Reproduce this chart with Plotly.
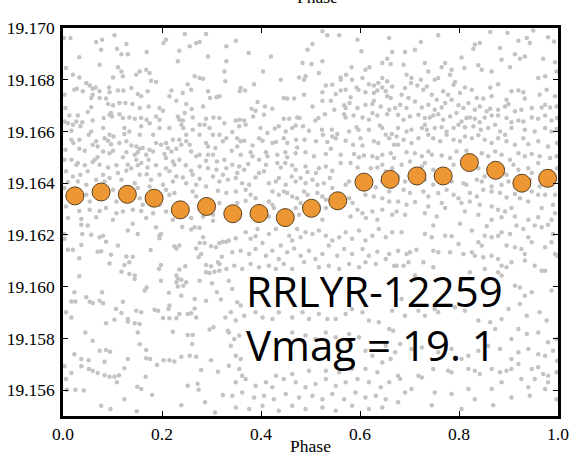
import plotly.graph_objects as go

# Binned light curve (phase, magnitude)
bin_phase = [0.024, 0.077, 0.130, 0.184, 0.237, 0.290, 0.343, 0.396, 0.449, 0.502,
             0.555, 0.608, 0.661, 0.715, 0.768, 0.821, 0.874, 0.927, 0.979]
bin_mag = [19.16351, 19.16366, 19.16357, 19.16342, 19.16297, 19.16310, 19.16282, 19.16283,
           19.16267, 19.16303, 19.16332, 19.16404, 19.16415, 19.16428, 19.16428, 19.16480,
           19.16450, 19.16400, 19.16419]

raw_points = [
    # phase 0.00-0.34, upper half
    (0.002, 19.16961), (0.015, 19.16961), (0.104, 19.16972), (0.067, 19.16946), (0.079, 19.16955),
    (0.077, 19.16916), (0.128, 19.16938), (0.169, 19.16907), (0.208, 19.16955), (0.203, 19.16942),
    (0.246, 19.16977), (0.269, 19.16942), (0.276, 19.16946), (0.289, 19.16977), (0.293, 19.16890),
    (0.330, 19.16929), (0.235, 19.16912), (0.256, 19.16929), (0.118, 19.16899), (0.131, 19.16899),
    (0.109, 19.16920), (0.033, 19.16887), (0.006, 19.16845), (0.074, 19.16858), (0.111, 19.16848),
    (0.118, 19.16832), (0.121, 19.16813), (0.168, 19.16839), (0.175, 19.16826), (0.232, 19.16871),
    (0.330, 19.16871), (0.326, 19.16832), (0.020, 19.16819), (0.033, 19.16809), (0.047, 19.16787),
    (0.054, 19.16778), (0.066, 19.16770), (0.101, 19.16809), (0.148, 19.16819), (0.155, 19.16832),
    (0.178, 19.16796), (0.188, 19.16791), (0.266, 19.16813), (0.276, 19.16807), (0.283, 19.16804),
    (0.252, 19.16783), (0.328, 19.16794), (0.023, 19.16761), (0.028, 19.16765), (0.040, 19.16755),
    (0.060, 19.16765), (0.074, 19.16755), (0.093, 19.16770), (0.094, 19.16752), (0.111, 19.16758),
    (0.122, 19.16758), (0.138, 19.16768), (0.151, 19.16745), (0.158, 19.16736), (0.171, 19.16755),
    (0.219, 19.16758), (0.215, 19.16736), (0.242, 19.16749), (0.259, 19.16761), (0.293, 19.16755),
    (0.310, 19.16732), (0.316, 19.16736), (0.003, 19.16742), (0.060, 19.16742), (0.057, 19.16729),
    (0.074, 19.16729), (0.087, 19.16727), (0.091, 19.16706), (0.101, 19.16701), (0.114, 19.16710),
    (0.126, 19.16710), (0.140, 19.16706), (0.155, 19.16691), (0.173, 19.16697), (0.195, 19.16691),
    (0.202, 19.16680), (0.229, 19.16719), (0.249, 19.16706), (0.260, 19.16687), (0.283, 19.16697),
    (0.297, 19.16729), (0.057, 19.16694), (0.050, 19.16675), (0.005, 19.16691), (0.013, 19.16662),
    (0.030, 19.16662), (0.003, 19.16639), (0.010, 19.16632), (0.020, 19.16626), (0.027, 19.16639),
    (0.039, 19.16636), (0.035, 19.16620), (0.060, 19.16642), (0.082, 19.16652), (0.094, 19.16665),
    (0.099, 19.16658), (0.097, 19.16671), (0.114, 19.16667), (0.121, 19.16652), (0.134, 19.16654),
    (0.145, 19.16649), (0.158, 19.16652), (0.169, 19.16645), (0.175, 19.16632), (0.188, 19.16658),
    (0.195, 19.16645), (0.232, 19.16658), (0.235, 19.16645), (0.242, 19.16642), (0.246, 19.16671),
    (0.239, 19.16626), (0.243, 19.16613), (0.262, 19.16654), (0.276, 19.16626), (0.289, 19.16649),
    (0.286, 19.16626), (0.304, 19.16654), (0.316, 19.16652), (0.326, 19.16632), (0.017, 19.16603),
    (0.057, 19.16600), (0.052, 19.16587), (0.081, 19.16613), (0.094, 19.16587), (0.102, 19.16581),
    (0.084, 19.16574), (0.124, 19.16613), (0.124, 19.16590), (0.134, 19.16600), (0.155, 19.16587),
    (0.158, 19.16620), (0.182, 19.16587), (0.195, 19.16613), (0.215, 19.16613), (0.249, 19.16587),
    (0.262, 19.16607), (0.276, 19.16587), (0.296, 19.16613), (0.303, 19.16587), (0.316, 19.16587),
    (0.330, 19.16574), (0.017, 19.16568), (0.021, 19.16555), (0.033, 19.16568), (0.067, 19.16562),
    (0.091, 19.16564), (0.097, 19.16551), (0.070, 19.16542), (0.060, 19.16549), (0.114, 19.16555),
    (0.128, 19.16562), (0.138, 19.16546), (0.148, 19.16542), (0.155, 19.16533), (0.161, 19.16536),
    (0.175, 19.16529), (0.188, 19.16555), (0.198, 19.16549), (0.208, 19.16555), (0.222, 19.16568),
    (0.212, 19.16536), (0.235, 19.16568), (0.249, 19.16562), (0.239, 19.16549), (0.256, 19.16549),
    (0.289, 19.16555), (0.293, 19.16542), (0.308, 19.16536), (0.323, 19.16562), (0.033, 19.16533),
    (0.005, 19.16529), (0.044, 19.16525), (0.081, 19.16523), (0.094, 19.16516), (0.101, 19.16525),
    (0.128, 19.16520), (0.145, 19.16510), (0.151, 19.16520), (0.168, 19.16510), (0.182, 19.16523),
    (0.205, 19.16513), (0.219, 19.16523), (0.229, 19.16533), (0.259, 19.16523), (0.276, 19.16510),
    (0.293, 19.16510), (0.303, 19.16510), (0.003, 19.16491), (0.017, 19.16491), (0.030, 19.16478),
    (0.064, 19.16491), (0.070, 19.16500), (0.121, 19.16500), (0.148, 19.16491), (0.158, 19.16478),
    (0.173, 19.16491), (0.208, 19.16497), (0.222, 19.16484), (0.235, 19.16491), (0.269, 19.16504),
    (0.289, 19.16487), (0.311, 19.16484), (0.326, 19.16491), (0.027, 19.16471), (0.044, 19.16469),
    (0.060, 19.16482), (0.074, 19.16471), (0.091, 19.16461), (0.108, 19.16469), (0.131, 19.16471),
    (0.138, 19.16458), (0.151, 19.16469), (0.171, 19.16461), (0.188, 19.16469), (0.208, 19.16458),
    (0.225, 19.16471), (0.248, 19.16469), (0.259, 19.16448), (0.276, 19.16465), (0.293, 19.16458),
    (0.310, 19.16452), (0.330, 19.16458), (0.006, 19.16446), (0.020, 19.16426), (0.035, 19.16433),
    (0.050, 19.16446), (0.081, 19.16433), (0.094, 19.16420), (0.111, 19.16439), (0.118, 19.16413),
    (0.128, 19.16448), (0.155, 19.16433), (0.169, 19.16435), (0.178, 19.16413), (0.195, 19.16433),
    (0.215, 19.16446), (0.229, 19.16426), (0.242, 19.16422), (0.262, 19.16433), (0.276, 19.16417),
    (0.303, 19.16426), (0.323, 19.16433), (0.333, 19.16413), (0.010, 19.16404), (0.030, 19.16407),
    (0.047, 19.16394), (0.067, 19.16413), (0.084, 19.16407), (0.145, 19.16400), (0.175, 19.16387),
    (0.202, 19.16394), (0.222, 19.16407), (0.249, 19.16400), (0.269, 19.16394), (0.289, 19.16387),
    (0.316, 19.16407), (0.003, 19.16381), (0.047, 19.16355), (0.054, 19.16329), (0.101, 19.16375),
    (0.108, 19.16329), (0.151, 19.16381), (0.155, 19.16342), (0.161, 19.16317), (0.208, 19.16375),
    (0.215, 19.16355), (0.225, 19.16362), (0.262, 19.16368), (0.269, 19.16349), (0.313, 19.16371),
    (0.330, 19.16362), (0.006, 19.16310), (0.033, 19.16293), (0.054, 19.16297), (0.074, 19.16293),
    (0.087, 19.16304), (0.108, 19.16284), (0.121, 19.16291), (0.141, 19.16297), (0.158, 19.16293),
    (0.182, 19.16284), (0.195, 19.16317), (0.208, 19.16291), (0.249, 19.16293), (0.259, 19.16265),
    (0.283, 19.16271), (0.303, 19.16278), (0.316, 19.16323), (0.010, 19.16265), (0.037, 19.16262),
    (0.067, 19.16268), (0.101, 19.16259), (0.168, 19.16265), (0.222, 19.16259), (0.303, 19.16255),
    # phase 0.34-0.67, upper half
    (0.524, 19.16987), (0.534, 19.16972), (0.558, 19.16972), (0.595, 19.16955), (0.603, 19.16910),
    (0.659, 19.16961), (0.665, 19.16907), (0.349, 19.16951), (0.375, 19.16903), (0.420, 19.16890),
    (0.494, 19.16916), (0.504, 19.16938), (0.484, 19.16865), (0.502, 19.16861), (0.524, 19.16871),
    (0.404, 19.16832), (0.477, 19.16809), (0.490, 19.16813), (0.487, 19.16800), (0.517, 19.16826),
    (0.561, 19.16809), (0.561, 19.16800), (0.572, 19.16819), (0.584, 19.16800), (0.583, 19.16848),
    (0.611, 19.16839), (0.619, 19.16848), (0.605, 19.16807), (0.645, 19.16865), (0.655, 19.16881),
    (0.662, 19.16861), (0.645, 19.16807), (0.655, 19.16794), (0.440, 19.16800), (0.531, 19.16778),
    (0.544, 19.16781), (0.561, 19.16758), (0.571, 19.16761), (0.593, 19.16770), (0.597, 19.16761),
    (0.618, 19.16783), (0.628, 19.16778), (0.637, 19.16787), (0.645, 19.16770), (0.652, 19.16755),
    (0.665, 19.16774), (0.386, 19.16783), (0.359, 19.16768), (0.357, 19.16755), (0.368, 19.16758),
    (0.524, 19.16752), (0.551, 19.16745), (0.487, 19.16742), (0.446, 19.16729), (0.453, 19.16727),
    (0.467, 19.16727), (0.524, 19.16719), (0.541, 19.16719), (0.581, 19.16732), (0.611, 19.16752),
    (0.628, 19.16749), (0.635, 19.16758), (0.655, 19.16736), (0.662, 19.16729), (0.393, 19.16714),
    (0.381, 19.16688), (0.389, 19.16680), (0.408, 19.16697), (0.423, 19.16688), (0.406, 19.16665),
    (0.384, 19.16658), (0.349, 19.16642), (0.357, 19.16645), (0.366, 19.16642), (0.369, 19.16626),
    (0.356, 19.16620), (0.504, 19.16697), (0.548, 19.16684), (0.568, 19.16701), (0.571, 19.16691),
    (0.579, 19.16710), (0.595, 19.16691), (0.611, 19.16703), (0.625, 19.16706), (0.628, 19.16719),
    (0.642, 19.16697), (0.659, 19.16684), (0.671, 19.16691), (0.446, 19.16649), (0.457, 19.16649),
    (0.473, 19.16654), (0.478, 19.16652), (0.510, 19.16642), (0.516, 19.16652), (0.529, 19.16667),
    (0.568, 19.16667), (0.571, 19.16654), (0.587, 19.16662), (0.605, 19.16654), (0.618, 19.16645),
    (0.625, 19.16671), (0.635, 19.16662), (0.655, 19.16667), (0.436, 19.16620), (0.399, 19.16613),
    (0.413, 19.16594), (0.428, 19.16611), (0.450, 19.16600), (0.463, 19.16613), (0.470, 19.16623),
    (0.485, 19.16620), (0.497, 19.16603), (0.523, 19.16607), (0.525, 19.16587), (0.543, 19.16607),
    (0.554, 19.16590), (0.578, 19.16600), (0.593, 19.16616), (0.597, 19.16607), (0.618, 19.16607),
    (0.640, 19.16623), (0.645, 19.16613), (0.652, 19.16587), (0.664, 19.16590), (0.342, 19.16598),
    (0.352, 19.16574), (0.366, 19.16564), (0.352, 19.16542), (0.359, 19.16562), (0.383, 19.16546),
    (0.396, 19.16574), (0.403, 19.16564), (0.423, 19.16555), (0.430, 19.16559), (0.446, 19.16574),
    (0.453, 19.16555), (0.471, 19.16568), (0.473, 19.16538), (0.488, 19.16568), (0.511, 19.16562),
    (0.534, 19.16559), (0.551, 19.16574), (0.544, 19.16581), (0.571, 19.16564), (0.586, 19.16549),
    (0.601, 19.16574), (0.605, 19.16546), (0.628, 19.16562), (0.637, 19.16555), (0.659, 19.16574),
    (0.669, 19.16549), (0.341, 19.16525), (0.359, 19.16510), (0.379, 19.16520), (0.383, 19.16504),
    (0.396, 19.16491), (0.410, 19.16520), (0.413, 19.16504), (0.433, 19.16510), (0.449, 19.16520),
    (0.453, 19.16500), (0.470, 19.16516), (0.490, 19.16520), (0.507, 19.16504), (0.531, 19.16513),
    (0.541, 19.16533), (0.561, 19.16510), (0.588, 19.16513), (0.598, 19.16500), (0.608, 19.16507),
    (0.625, 19.16504), (0.635, 19.16497), (0.645, 19.16510), (0.662, 19.16516), (0.669, 19.16497),
    (0.342, 19.16471), (0.356, 19.16465), (0.374, 19.16474), (0.366, 19.16452), (0.352, 19.16439),
    (0.396, 19.16439), (0.406, 19.16446), (0.410, 19.16471), (0.433, 19.16478), (0.440, 19.16461),
    (0.449, 19.16478), (0.463, 19.16469), (0.470, 19.16452), (0.490, 19.16465), (0.494, 19.16443),
    (0.511, 19.16439), (0.517, 19.16458), (0.531, 19.16465), (0.544, 19.16448), (0.561, 19.16478),
    (0.581, 19.16478), (0.595, 19.16461), (0.622, 19.16458), (0.635, 19.16461), (0.645, 19.16471),
    (0.652, 19.16446), (0.665, 19.16458), (0.349, 19.16420), (0.362, 19.16400), (0.376, 19.16394),
    (0.389, 19.16422), (0.416, 19.16400), (0.430, 19.16407), (0.436, 19.16420), (0.450, 19.16394),
    (0.462, 19.16426), (0.470, 19.16407), (0.480, 19.16420), (0.490, 19.16400), (0.504, 19.16413),
    (0.514, 19.16394), (0.527, 19.16400), (0.539, 19.16420), (0.544, 19.16381), (0.571, 19.16394),
    (0.578, 19.16407), (0.632, 19.16384), (0.645, 19.16407), (0.659, 19.16368), (0.665, 19.16387),
    (0.349, 19.16368), (0.369, 19.16375), (0.379, 19.16355), (0.389, 19.16342), (0.423, 19.16368),
    (0.436, 19.16355), (0.446, 19.16368), (0.453, 19.16362), (0.463, 19.16349), (0.473, 19.16342),
    (0.487, 19.16368), (0.494, 19.16355), (0.514, 19.16362), (0.524, 19.16349), (0.531, 19.16336),
    (0.578, 19.16342), (0.585, 19.16323), (0.611, 19.16355), (0.628, 19.16349), (0.645, 19.16342),
    (0.659, 19.16329), (0.352, 19.16323), (0.369, 19.16332), (0.416, 19.16329), (0.423, 19.16317),
    (0.426, 19.16304), (0.470, 19.16304), (0.480, 19.16323), (0.531, 19.16304), (0.595, 19.16297),
    (0.605, 19.16284), (0.625, 19.16291), (0.645, 19.16297), (0.665, 19.16278), (0.356, 19.16265),
    (0.389, 19.16259), (0.416, 19.16271), (0.477, 19.16278), (0.524, 19.16259), (0.581, 19.16271),
    (0.612, 19.16265), (0.635, 19.16259),
    # phase 0.67-1.00, upper half
    (0.758, 19.16972), (0.863, 19.16985), (0.898, 19.16981), (0.950, 19.16990), (0.920, 19.16951),
    (0.937, 19.16961), (0.943, 19.16942), (0.980, 19.16964), (0.992, 19.16948), (0.832, 19.16936),
    (0.842, 19.16942), (0.829, 19.16920), (0.883, 19.16923), (0.913, 19.16899), (0.923, 19.16881),
    (0.933, 19.16890), (0.970, 19.16881), (0.994, 19.16868), (0.691, 19.16907), (0.711, 19.16916),
    (0.723, 19.16946), (0.688, 19.16858), (0.694, 19.16819), (0.704, 19.16807), (0.731, 19.16865),
    (0.738, 19.16832), (0.765, 19.16848), (0.772, 19.16865), (0.782, 19.16819), (0.785, 19.16839),
    (0.805, 19.16886), (0.811, 19.16845), (0.839, 19.16856), (0.846, 19.16839), (0.866, 19.16832),
    (0.886, 19.16877), (0.903, 19.16848), (0.960, 19.16807), (0.974, 19.16813), (0.997, 19.16832),
    (0.691, 19.16768), (0.703, 19.16787), (0.716, 19.16778), (0.723, 19.16800), (0.728, 19.16761),
    (0.735, 19.16774), (0.751, 19.16800), (0.758, 19.16807), (0.745, 19.16742), (0.755, 19.16723),
    (0.768, 19.16755), (0.778, 19.16742), (0.792, 19.16791), (0.802, 19.16749), (0.789, 19.16781),
    (0.812, 19.16770), (0.826, 19.16761), (0.836, 19.16729), (0.849, 19.16727), (0.863, 19.16770),
    (0.866, 19.16736), (0.879, 19.16783), (0.896, 19.16723), (0.906, 19.16755), (0.920, 19.16758),
    (0.930, 19.16752), (0.933, 19.16727), (0.963, 19.16742), (0.977, 19.16761), (0.994, 19.16736),
    (0.684, 19.16742), (0.698, 19.16729), (0.681, 19.16703), (0.694, 19.16691), (0.711, 19.16716),
    (0.725, 19.16693), (0.738, 19.16703), (0.751, 19.16684), (0.765, 19.16693), (0.772, 19.16710),
    (0.785, 19.16723), (0.799, 19.16701), (0.809, 19.16691), (0.819, 19.16710), (0.832, 19.16684),
    (0.842, 19.16697), (0.856, 19.16678), (0.863, 19.16688), (0.879, 19.16684), (0.893, 19.16697),
    (0.900, 19.16706), (0.913, 19.16678), (0.926, 19.16684), (0.947, 19.16691), (0.967, 19.16693),
    (0.974, 19.16703), (0.984, 19.16693), (0.997, 19.16697), (0.677, 19.16665), (0.688, 19.16645),
    (0.701, 19.16658), (0.718, 19.16665), (0.731, 19.16652), (0.741, 19.16654), (0.748, 19.16662),
    (0.758, 19.16667), (0.768, 19.16645), (0.782, 19.16658), (0.795, 19.16671), (0.805, 19.16639),
    (0.815, 19.16652), (0.822, 19.16654), (0.832, 19.16649), (0.842, 19.16636), (0.852, 19.16654),
    (0.866, 19.16662), (0.879, 19.16662), (0.896, 19.16652), (0.906, 19.16636), (0.920, 19.16642),
    (0.930, 19.16639), (0.947, 19.16654), (0.960, 19.16649), (0.974, 19.16662), (0.987, 19.16642),
    (0.998, 19.16652), (0.677, 19.16613), (0.694, 19.16600), (0.704, 19.16607), (0.725, 19.16613),
    (0.731, 19.16626), (0.735, 19.16607), (0.751, 19.16613), (0.765, 19.16616), (0.775, 19.16600),
    (0.789, 19.16613), (0.799, 19.16626), (0.812, 19.16616), (0.829, 19.16620), (0.844, 19.16607),
    (0.859, 19.16613), (0.873, 19.16626), (0.883, 19.16600), (0.893, 19.16587), (0.906, 19.16613),
    (0.933, 19.16607), (0.953, 19.16600), (0.974, 19.16613), (0.987, 19.16600), (0.997, 19.16610),
    (0.674, 19.16581), (0.688, 19.16568), (0.704, 19.16555), (0.718, 19.16574), (0.738, 19.16587),
    (0.748, 19.16574), (0.762, 19.16562), (0.775, 19.16587), (0.789, 19.16568), (0.802, 19.16562),
    (0.812, 19.16581), (0.826, 19.16574), (0.839, 19.16585), (0.852, 19.16568), (0.866, 19.16555),
    (0.879, 19.16574), (0.896, 19.16562), (0.913, 19.16549), (0.930, 19.16574), (0.940, 19.16551),
    (0.960, 19.16562), (0.980, 19.16542), (0.998, 19.16555), (0.677, 19.16549), (0.694, 19.16520),
    (0.711, 19.16516), (0.725, 19.16504), (0.738, 19.16523), (0.745, 19.16510), (0.765, 19.16507),
    (0.782, 19.16497), (0.795, 19.16523), (0.815, 19.16525), (0.846, 19.16516), (0.859, 19.16504),
    (0.873, 19.16523), (0.886, 19.16510), (0.903, 19.16491), (0.920, 19.16516), (0.933, 19.16504),
    (0.947, 19.16513), (0.963, 19.16504), (0.984, 19.16497), (0.997, 19.16504), (0.684, 19.16471),
    (0.701, 19.16484), (0.725, 19.16465), (0.731, 19.16478), (0.748, 19.16452), (0.789, 19.16471),
    (0.839, 19.16458), (0.852, 19.16426), (0.866, 19.16443), (0.886, 19.16465), (0.896, 19.16433),
    (0.910, 19.16471), (0.920, 19.16452), (0.940, 19.16458), (0.947, 19.16439), (0.960, 19.16478),
    (0.984, 19.16446), (0.998, 19.16458), (0.677, 19.16426), (0.691, 19.16407), (0.731, 19.16413),
    (0.748, 19.16394), (0.765, 19.16420), (0.785, 19.16407), (0.809, 19.16400), (0.815, 19.16394),
    (0.836, 19.16413), (0.846, 19.16407), (0.866, 19.16387), (0.886, 19.16394), (0.900, 19.16407),
    (0.943, 19.16413), (0.963, 19.16387), (0.987, 19.16394), (0.688, 19.16375), (0.701, 19.16362),
    (0.728, 19.16368), (0.738, 19.16349), (0.758, 19.16362), (0.775, 19.16375), (0.789, 19.16355),
    (0.799, 19.16342), (0.822, 19.16362), (0.836, 19.16349), (0.849, 19.16375), (0.866, 19.16368),
    (0.883, 19.16362), (0.896, 19.16345), (0.913, 19.16358), (0.923, 19.16342), (0.947, 19.16368),
    (0.960, 19.16355), (0.974, 19.16355), (0.994, 19.16355), (0.677, 19.16329), (0.694, 19.16317),
    (0.711, 19.16327), (0.738, 19.16310), (0.765, 19.16323), (0.772, 19.16304), (0.805, 19.16323),
    (0.822, 19.16329), (0.842, 19.16317), (0.866, 19.16310), (0.879, 19.16297), (0.893, 19.16291),
    (0.906, 19.16304), (0.940, 19.16329), (0.967, 19.16304), (0.990, 19.16317), (0.674, 19.16291),
    (0.691, 19.16278), (0.731, 19.16284), (0.755, 19.16271), (0.812, 19.16291), (0.839, 19.16278),
    (0.866, 19.16259), (0.886, 19.16268), (0.913, 19.16271), (0.940, 19.16259), (0.960, 19.16268),
    (0.994, 19.16284), (0.987, 19.16259),
    # phase 0.00-0.34, lower half
    (0.037, 19.16239), (0.050, 19.16236), (0.141, 19.16243), (0.188, 19.16230), (0.241, 19.16231),
    (0.259, 19.16221), (0.266, 19.16230), (0.276, 19.16228), (0.003, 19.16204), (0.003, 19.16185),
    (0.039, 19.16204), (0.057, 19.16201), (0.074, 19.16191), (0.081, 19.16197), (0.087, 19.16174),
    (0.131, 19.16217), (0.151, 19.16204), (0.195, 19.16197), (0.198, 19.16204), (0.195, 19.16187),
    (0.283, 19.16191), (0.276, 19.16169), (0.286, 19.16169), (0.299, 19.16156), (0.309, 19.16152),
    (0.316, 19.16169), (0.323, 19.16174), (0.330, 19.16174), (0.010, 19.16143), (0.020, 19.16143),
    (0.037, 19.16161), (0.033, 19.16110), (0.070, 19.16135), (0.077, 19.16137), (0.097, 19.16123),
    (0.111, 19.16159), (0.128, 19.16117), (0.124, 19.16084), (0.134, 19.16094), (0.141, 19.16116),
    (0.177, 19.16142), (0.225, 19.16156), (0.235, 19.16159), (0.229, 19.16148), (0.269, 19.16148),
    (0.274, 19.16114), (0.279, 19.16126), (0.289, 19.16084), (0.299, 19.16079), (0.313, 19.16094),
    (0.316, 19.16088), (0.321, 19.16116), (0.094, 19.16090), (0.118, 19.16058), (0.134, 19.16049),
    (0.145, 19.16043), (0.145, 19.16030), (0.194, 19.16068), (0.198, 19.16084), (0.235, 19.16066),
    (0.247, 19.16079), (0.229, 19.16043), (0.232, 19.16032), (0.229, 19.16017), (0.239, 19.16027),
    (0.249, 19.16017), (0.243, 19.16004), (0.289, 19.16056), (0.296, 19.16053), (0.306, 19.16058),
    (0.316, 19.16062), (0.330, 19.16068), (0.033, 19.16040), (0.276, 19.16023), (0.301, 19.16013),
    (0.165, 19.15985), (0.169, 19.15997), (0.198, 19.16023), (0.232, 19.16001), (0.214, 19.15976),
    (0.239, 19.15965), (0.266, 19.15952), (0.289, 19.15946), (0.319, 19.15950), (0.311, 19.15978),
    (0.023, 19.15978), (0.017, 19.15943), (0.025, 19.15943), (0.047, 19.15959), (0.054, 19.15942),
    (0.060, 19.15937), (0.074, 19.15946), (0.081, 19.15936), (0.079, 19.15978), (0.121, 19.15942),
    (0.107, 19.15914), (0.118, 19.15898), (0.104, 19.15872), (0.087, 19.15859), (0.006, 19.15901),
    (0.017, 19.15881), (0.131, 19.15875), (0.131, 19.15865), (0.145, 19.15859), (0.155, 19.15856),
    (0.148, 19.15907), (0.158, 19.15901), (0.185, 19.15911), (0.192, 19.15907), (0.202, 19.15879),
    (0.215, 19.15878), (0.229, 19.15878), (0.215, 19.15927), (0.213, 19.15914), (0.235, 19.15894),
    (0.252, 19.15894), (0.259, 19.15897), (0.266, 19.15916), (0.269, 19.15881), (0.328, 19.15881),
    (0.333, 19.15830), (0.296, 19.15834), (0.304, 19.15843), (0.045, 19.15823), (0.060, 19.15791),
    (0.151, 19.15823), (0.222, 19.15826), (0.252, 19.15813), (0.262, 19.15813), (0.261, 19.15778),
    (0.023, 19.15739), (0.037, 19.15720), (0.052, 19.15716), (0.074, 19.15752), (0.087, 19.15755),
    (0.095, 19.15748), (0.084, 19.15710), (0.131, 19.15720), (0.155, 19.15777), (0.168, 19.15755),
    (0.168, 19.15723), (0.176, 19.15720), (0.190, 19.15697), (0.203, 19.15716), (0.215, 19.15716),
    (0.225, 19.15711), (0.239, 19.15729), (0.256, 19.15733), (0.269, 19.15729), (0.299, 19.15716),
    (0.003, 19.15692), (0.006, 19.15643), (0.017, 19.15666), (0.037, 19.15692), (0.052, 19.15682),
    (0.060, 19.15675), (0.070, 19.15666), (0.084, 19.15658), (0.094, 19.15652), (0.104, 19.15652),
    (0.113, 19.15658), (0.109, 19.15630), (0.124, 19.15685), (0.167, 19.15652), (0.279, 19.15678),
    (0.313, 19.15671), (0.008, 19.15601), (0.025, 19.15601), (0.042, 19.15599), (0.150, 19.15613),
    (0.158, 19.15604), (0.252, 19.15617), (0.272, 19.15625), (0.274, 19.15601), (0.180, 19.15581),
    (0.124, 19.15565), (0.077, 19.15540), (0.096, 19.15527), (0.149, 19.15518), (0.239, 19.15542),
    (0.287, 19.15553), (0.307, 19.15514), (0.323, 19.15581),
    # phase 0.34-0.67, lower half
    (0.335, 19.16178), (0.349, 19.16187), (0.369, 19.16210), (0.379, 19.16185), (0.389, 19.16195),
    (0.393, 19.16223), (0.403, 19.16169), (0.416, 19.16204), (0.430, 19.16223), (0.440, 19.16159),
    (0.457, 19.16197), (0.463, 19.16178), (0.473, 19.16223), (0.480, 19.16191), (0.490, 19.16210),
    (0.504, 19.16204), (0.517, 19.16217), (0.531, 19.16197), (0.544, 19.16178), (0.558, 19.16191),
    (0.571, 19.16210), (0.584, 19.16185), (0.598, 19.16217), (0.611, 19.16178), (0.625, 19.16197),
    (0.638, 19.16223), (0.652, 19.16191), (0.665, 19.16210), (0.342, 19.16133), (0.359, 19.16139),
    (0.376, 19.16126), (0.389, 19.16146), (0.410, 19.16120), (0.423, 19.16139), (0.436, 19.16107),
    (0.453, 19.16133), (0.467, 19.16148), (0.480, 19.16120), (0.497, 19.16139), (0.510, 19.16107),
    (0.524, 19.16126), (0.537, 19.16159), (0.554, 19.16120), (0.568, 19.16146), (0.584, 19.16126),
    (0.605, 19.16146), (0.618, 19.16120), (0.635, 19.16135), (0.659, 19.16126), (0.346, 19.16081),
    (0.362, 19.16068), (0.379, 19.16088), (0.396, 19.16075), (0.416, 19.16081), (0.430, 19.16068),
    (0.446, 19.16088), (0.463, 19.16068), (0.487, 19.16094), (0.517, 19.16075), (0.537, 19.16081),
    (0.558, 19.16068), (0.578, 19.16088), (0.598, 19.16075), (0.611, 19.16094), (0.632, 19.16088),
    (0.652, 19.16107), (0.669, 19.16081), (0.335, 19.16023), (0.342, 19.15991), (0.352, 19.15940),
    (0.359, 19.15927), (0.339, 19.15901), (0.349, 19.15869), (0.366, 19.15888), (0.389, 19.15901),
    (0.403, 19.15881), (0.423, 19.15875), (0.436, 19.15901), (0.463, 19.15881), (0.484, 19.15901),
    (0.497, 19.15875), (0.517, 19.15894), (0.534, 19.15875), (0.551, 19.15875), (0.571, 19.15894),
    (0.584, 19.15914), (0.605, 19.15901), (0.618, 19.15869), (0.638, 19.15862), (0.659, 19.15836),
    (0.665, 19.15907), (0.335, 19.15823), (0.346, 19.15798), (0.356, 19.15811), (0.339, 19.15772),
    (0.349, 19.15733), (0.359, 19.15720), (0.335, 19.15694), (0.356, 19.15682), (0.362, 19.15656),
    (0.463, 19.15823), (0.490, 19.15811), (0.510, 19.15798), (0.531, 19.15823), (0.551, 19.15804),
    (0.578, 19.15817), (0.598, 19.15804), (0.611, 19.15752), (0.625, 19.15733), (0.645, 19.15707),
    (0.662, 19.15720), (0.652, 19.15772), (0.531, 19.15675), (0.558, 19.15669), (0.584, 19.15682),
    (0.611, 19.15682), (0.635, 19.15669), (0.430, 19.15656), (0.463, 19.15662), (0.497, 19.15675),
    (0.349, 19.15630), (0.369, 19.15643), (0.389, 19.15617), (0.410, 19.15630), (0.423, 19.15611),
    (0.446, 19.15643), (0.470, 19.15630), (0.490, 19.15611), (0.510, 19.15624), (0.531, 19.15643),
    (0.551, 19.15617), (0.571, 19.15630), (0.595, 19.15643), (0.618, 19.15630), (0.642, 19.15611),
    (0.659, 19.15630), (0.342, 19.15578), (0.362, 19.15591), (0.386, 19.15572), (0.406, 19.15578),
    (0.426, 19.15565), (0.450, 19.15585), (0.477, 19.15572), (0.504, 19.15578), (0.524, 19.15565),
    (0.544, 19.15585), (0.568, 19.15565), (0.591, 19.15591), (0.611, 19.15572), (0.632, 19.15578),
    (0.652, 19.15565), (0.349, 19.15533), (0.376, 19.15527), (0.403, 19.15540), (0.436, 19.15520),
    (0.463, 19.15540), (0.490, 19.15527), (0.524, 19.15533), (0.551, 19.15520), (0.584, 19.15540),
    (0.618, 19.15527), (0.645, 19.15533),
    # phase 0.67-1.00, lower half
    (0.748, 19.16236), (0.802, 19.16243), (0.826, 19.16217), (0.852, 19.16197), (0.856, 19.16234),
    (0.886, 19.16210), (0.903, 19.16204), (0.916, 19.16236), (0.930, 19.16223), (0.940, 19.16191),
    (0.953, 19.16236), (0.967, 19.16230), (0.980, 19.16239), (0.990, 19.16204), (0.684, 19.16210),
    (0.731, 19.16204), (0.745, 19.16191), (0.772, 19.16197), (0.785, 19.16195), (0.799, 19.16165),
    (0.839, 19.16172), (0.846, 19.16159), (0.866, 19.16191), (0.879, 19.16197), (0.896, 19.16159),
    (0.913, 19.16152), (0.926, 19.16146), (0.933, 19.16126), (0.947, 19.16172), (0.974, 19.16152),
    (0.987, 19.16172), (0.994, 19.16126), (0.998, 19.16120), (0.677, 19.16139), (0.694, 19.16126),
    (0.701, 19.16133), (0.714, 19.16143), (0.748, 19.16139), (0.758, 19.16133), (0.782, 19.16133),
    (0.809, 19.16126), (0.826, 19.16133), (0.832, 19.16120), (0.849, 19.16114), (0.866, 19.16120),
    (0.879, 19.16107), (0.886, 19.16081), (0.896, 19.16075), (0.906, 19.16094), (0.933, 19.16101),
    (0.953, 19.16081), (0.967, 19.16062), (0.974, 19.16062), (0.674, 19.16081), (0.688, 19.16081),
    (0.698, 19.16094), (0.728, 19.16094), (0.748, 19.16075), (0.822, 19.16056), (0.852, 19.16068),
    (0.879, 19.16056), (0.886, 19.16043), (0.711, 19.16043), (0.728, 19.16023), (0.913, 19.16004),
    (0.923, 19.15997), (0.923, 19.15933), (0.947, 19.15978), (0.963, 19.15901), (0.977, 19.15869),
    (0.987, 19.15985), (0.933, 19.15965), (0.937, 19.15888), (0.684, 19.15952), (0.691, 19.15888),
    (0.718, 19.15907), (0.731, 19.15888), (0.751, 19.15914), (0.758, 19.15901), (0.792, 19.15920),
    (0.812, 19.15907), (0.839, 19.15869), (0.863, 19.15862), (0.873, 19.15836), (0.886, 19.15875),
    (0.900, 19.15914), (0.906, 19.15798), (0.920, 19.15836), (0.937, 19.15817), (0.960, 19.15823),
    (0.980, 19.15785), (0.997, 19.15798), (0.667, 19.15830), (0.681, 19.15778), (0.671, 19.15746),
    (0.704, 19.15759), (0.725, 19.15765), (0.758, 19.15746), (0.785, 19.15759), (0.805, 19.15720),
    (0.819, 19.15733), (0.839, 19.15752), (0.859, 19.15772), (0.883, 19.15759), (0.906, 19.15720),
    (0.920, 19.15746), (0.940, 19.15759), (0.960, 19.15739), (0.974, 19.15733), (0.990, 19.15752),
    (0.998, 19.15714), (0.677, 19.15656), (0.681, 19.15643), (0.718, 19.15656), (0.725, 19.15649),
    (0.748, 19.15682), (0.778, 19.15675), (0.785, 19.15669), (0.819, 19.15682), (0.832, 19.15675),
    (0.842, 19.15662), (0.866, 19.15682), (0.883, 19.15669), (0.896, 19.15675), (0.906, 19.15682),
    (0.920, 19.15701), (0.947, 19.15682), (0.960, 19.15688), (0.970, 19.15662), (0.980, 19.15656),
    (0.997, 19.15669), (0.751, 19.15591), (0.745, 19.15542), (0.805, 19.15527), (0.832, 19.15565),
    (0.869, 19.15542), (0.906, 19.15572), (0.940, 19.15611), (0.943, 19.15578), (0.974, 19.15604),
    (0.980, 19.15630), (0.997, 19.15565), (0.704, 19.15604), (0.677, 19.15553), (0.691, 19.15591),
    (0.785, 19.15585), (0.819, 19.15604), (0.866, 19.15604), (0.886, 19.15630), (0.926, 19.15643),
    (0.953, 19.15643),
]

raw_phase = [p for p, m in raw_points]
raw_mag = [m for p, m in raw_points]

y_ticks = [19.156, 19.158, 19.160, 19.162, 19.164, 19.166, 19.168, 19.170]
y_tick_text = ["19.156", "19.158", "19.160", "19.162", "19.164", "19.166", "19.168", "19.170"]
x_ticks = [0.0, 0.2, 0.4, 0.6, 0.8, 1.0]
x_tick_text = ["0.0", "0.2", "0.4", "0.6", "0.8", "1.0"]

star_name = "RRLYR-12259"
star_vmag = "Vmag = 19. 1"

serif = "Liberation Serif"

fig = go.Figure()
fig.add_trace(go.Scatter(
    x=raw_phase, y=raw_mag, mode="markers",
    marker=dict(size=4.5, color="#c3c3c3", line=dict(width=0)),
    hoverinfo="skip", showlegend=False, cliponaxis=True,
))
fig.add_trace(go.Scatter(
    x=bin_phase, y=bin_mag, mode="markers",
    marker=dict(size=18, color="#ec9733", line=dict(width=1, color="#5c4020")),
    showlegend=False,
))

def axis_style():
    return dict(
        showline=True, linecolor="black", linewidth=2.5, mirror="allticks",
        ticks="inside", ticklen=5, tickwidth=1, tickcolor="black",
        showgrid=False, zeroline=False, automargin=False,
        tickfont=dict(family=serif, size=17.5, color="black"),
    )

fig.update_layout(
    width=573, height=456,
    margin=dict(l=63, r=15, t=28, b=40, autoexpand=False),
    paper_bgcolor="white", plot_bgcolor="white",
    xaxis=dict(range=[0, 1], tickvals=x_ticks, ticktext=x_tick_text,
               title=dict(text="Phase", font=dict(family=serif, size=17.5, color="black"), standoff=0),
               **axis_style()),
    yaxis=dict(range=[19.155, 19.170], tickvals=y_ticks, ticktext=y_tick_text, ticklabelstandoff=2,
               **axis_style()),
    annotations=[
        dict(text="Phase", xref="paper", yref="paper", x=0.515, y=1.049,
             xanchor="center", yanchor="bottom", showarrow=False,
             font=dict(family=serif, size=17.5, color="black")),
        dict(text=star_name, xref="paper", yref="paper", x=0.366, y=0.3245,
             xanchor="left", yanchor="middle", showarrow=False,
             font=dict(family="Open Sans", size=42, color="black")),
        dict(text=star_vmag, xref="paper", yref="paper", x=0.366, y=0.1835,
             xanchor="left", yanchor="middle", showarrow=False,
             font=dict(family="Open Sans", size=42, color="black")),
    ],
)

fig.write_html("out.html", config={"displayModeBar": False},
               post_script="document.body.style.margin='0';")
